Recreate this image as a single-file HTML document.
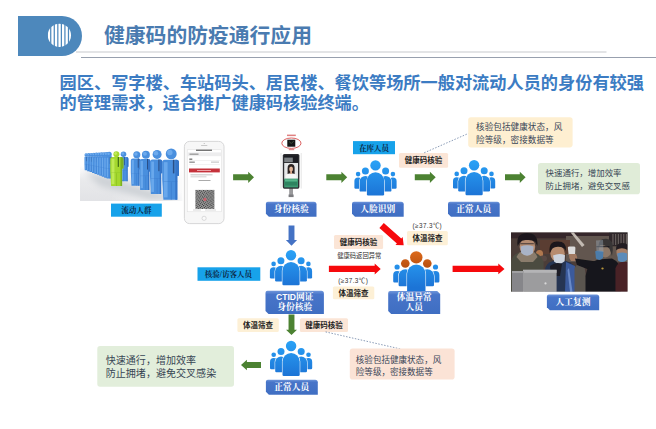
<!DOCTYPE html>
<html lang="zh"><head><meta charset="utf-8"><title>健康码的防疫通行应用</title>
<style>
html,body{margin:0;padding:0;background:#fff;}
body{width:656px;height:429px;overflow:hidden;position:relative;font-family:"Liberation Sans",sans-serif;}
svg{position:absolute;left:0;top:0;display:block;}
.t{position:absolute;left:0;top:0;width:656px;height:429px;overflow:hidden;}
.t span{position:absolute;white-space:nowrap;overflow:hidden;line-height:1;color:transparent;}
.sn{font-family:"Liberation Sans","Noto Sans CJK SC",sans-serif;}
.sb{font-family:"Liberation Sans","Noto Sans CJK SC",sans-serif;font-weight:bold;}
.rb{font-family:"Liberation Serif","Noto Serif CJK SC",serif;font-weight:bold;}
</style></head><body>
<svg width="656" height="429" viewBox="0 0 656 429">
<defs>

<linearGradient id="lb" x1="0" y1="0" x2="0" y2="1"><stop offset="0" stop-color="#6f96da"/><stop offset="0.16" stop-color="#4875c9"/><stop offset="1" stop-color="#3f6ec2"/></linearGradient>
<linearGradient id="pg" gradientUnits="userSpaceOnUse" x1="0" y1="-5" x2="0" y2="30"><stop offset="0" stop-color="#2aa2f6"/><stop offset="1" stop-color="#1c74d6"/></linearGradient>
<linearGradient id="og" gradientUnits="userSpaceOnUse" x1="0" y1="-6" x2="0" y2="10"><stop offset="0" stop-color="#dc6a1c"/><stop offset="1" stop-color="#b9500f"/></linearGradient>
<filter id="b0" x="-5%" y="-5%" width="110%" height="110%"><feGaussianBlur stdDeviation="0.35"/></filter>
<filter id="b1" x="-5%" y="-5%" width="110%" height="110%"><feGaussianBlur stdDeviation="0.55"/></filter>
<filter id="b3" x="-20%" y="-20%" width="140%" height="140%"><feGaussianBlur stdDeviation="3"/></filter>
<pattern id="qr" patternUnits="userSpaceOnUse" x="195.4" y="189.9" width="3.8" height="3.8"><rect width="3.8" height="3.8" fill="#b4b4b4"/><rect width="1.3" height="1.3" fill="#333"/><rect x="1.9" y="0.6" width="1.3" height="1.3" fill="#444"/><rect x="0.6" y="1.9" width="1.3" height="1.3" fill="#3a3a3a"/><rect x="2.5" y="2.5" width="1.3" height="1.3" fill="#333"/></pattern>
<linearGradient id="cbg" x1="0" y1="0" x2="0" y2="1"><stop offset="0" stop-color="#ffffff"/><stop offset="0.4" stop-color="#e9eaec"/><stop offset="1" stop-color="#e2e3e6"/></linearGradient>
<linearGradient id="cbw" x1="0" y1="0" x2="1" y2="0"><stop offset="0.3" stop-color="#fff" stop-opacity="0"/><stop offset="1" stop-color="#fff" stop-opacity="0.85"/></linearGradient>
<clipPath id="cc"><circle cx="59.4" cy="35.3" r="11.6"/></clipPath>
</defs>
<path d="M76 52H606.5" stroke="#c8cace" stroke-width="1.2"/>
<path d="M81 57.5H656" stroke="#98a0ae" stroke-width="1.1"/>
<path d="M18 16H62A20 20 0 0 1 62 56H18Z" fill="#4d88bc"/>
<g clip-path="url(#cc)" fill="#fff"><rect x="47.8" y="22" width="2.3" height="27"/><rect x="51.35" y="22" width="2.3" height="27"/><rect x="54.9" y="22" width="2.3" height="27"/><rect x="58.45" y="22" width="2.3" height="27"/><rect x="62" y="22" width="2.3" height="27"/><rect x="65.55" y="22" width="2.3" height="27"/><rect x="69.1" y="22" width="2.3" height="27"/></g>
<text class="sb" x="104" y="43.2" font-size="20.8" fill="#4a7bb0">健康码的防疫通行应用</text>
<text class="sb" x="59.6" y="88.5" font-size="17.2" fill="#3c7cc3">园区、写字楼、车站码头、居民楼、餐饮等场所一般对流动人员的身份有较强</text>
<text class="sb" x="59.6" y="108.9" font-size="17.2" fill="#3c7cc3">的管理需求，适合推广健康码核验终端。</text>
<clipPath id="cwc"><rect x="80" y="146" width="102.5" height="55"/></clipPath>
<g clip-path="url(#cwc)"><g filter="url(#b1)"><rect x="80" y="166" width="103" height="35" fill="url(#cbg)"/><rect x="80" y="166" width="103" height="35" fill="url(#cbw)"/><path d="M84 171L112 178L170 196L182 200H150L100 186Z" fill="#cdd1d6" filter="url(#b3)"/><path d="M84.5 163.4V157.348Q84.5 156.6 85.248 156.6H87.152Q87.9 156.6 87.9 157.348V162.04H87.56V170.2H84.738Z" fill="#4a8fde"/><path d="M87.152 156.6H87.152Q87.9 156.6 87.9 157.348V162.04H87.56V170.2H87.152Z" fill="#3674c8"/><rect x="84.84" y="157.416" width="0.748" height="11.968" fill="#74b0f0" opacity="0.75"/><rect x="86.54" y="156.6" width="0.5" height="4.624" fill="#2a4f86"/><rect x="84.738" y="163.944" width="2.822" height="0.3" fill="#3674c8" opacity="0.6"/><rect x="86.132" y="164.216" width="0.35" height="5.984" fill="#3674c8" opacity="0.8"/><circle cx="86.2" cy="154.9" r="1.712" fill="#4a8fde"/><circle cx="85.772" cy="154.472" r="0.856" fill="#74b0f0" opacity="0.8"/><path d="M86.9111 163.856V157.389Q86.9111 156.578 87.7227 156.578H89.7884Q90.6 156.578 90.6 157.389V162.4H90.2311V171.133H87.1693Z" fill="#4a8fde"/><path d="M89.7884 156.578H89.7884Q90.6 156.578 90.6 157.389V162.4H90.2311V171.133H89.7884Z" fill="#3674c8"/><rect x="87.28" y="157.451" width="0.811556" height="12.8089" fill="#74b0f0" opacity="0.75"/><rect x="89.1244" y="156.578" width="0.5" height="4.94889" fill="#2a4f86"/><rect x="87.1693" y="164.438" width="3.06178" height="0.3" fill="#3674c8" opacity="0.6"/><rect x="88.6818" y="164.729" width="0.35" height="6.40444" fill="#3674c8" opacity="0.8"/><circle cx="88.7556" cy="154.844" r="1.80711" fill="#4a8fde"/><circle cx="88.3038" cy="154.393" r="0.903556" fill="#74b0f0" opacity="0.8"/><path d="M89.3222 164.311V157.431Q89.3222 156.556 90.1973 156.556H92.4249Q93.3 156.556 93.3 157.431V162.76H92.9022V172.067H89.6007Z" fill="#4a8fde"/><path d="M92.4249 156.556H92.4249Q93.3 156.556 93.3 157.431V162.76H92.9022V172.067H92.4249Z" fill="#3674c8"/><rect x="89.72" y="157.486" width="0.875111" height="13.6498" fill="#74b0f0" opacity="0.75"/><rect x="91.7089" y="156.556" width="0.5" height="5.27378" fill="#2a4f86"/><rect x="89.6007" y="164.932" width="3.30156" height="0.3" fill="#3674c8" opacity="0.6"/><rect x="91.2316" y="165.242" width="0.35" height="6.82489" fill="#3674c8" opacity="0.8"/><circle cx="91.3111" cy="154.789" r="1.90222" fill="#4a8fde"/><circle cx="90.8356" cy="154.313" r="0.951111" fill="#74b0f0" opacity="0.8"/><path d="M91.7333 164.767V157.472Q91.7333 156.533 92.672 156.533H95.0613Q96 156.533 96 157.472V163.12H95.5733V173H92.032Z" fill="#4a8fde"/><path d="M95.0613 156.533H95.0613Q96 156.533 96 157.472V163.12H95.5733V173H95.0613Z" fill="#3674c8"/><rect x="92.16" y="157.521" width="0.938667" height="14.4907" fill="#74b0f0" opacity="0.75"/><rect x="94.2933" y="156.533" width="0.5" height="5.59867" fill="#2a4f86"/><rect x="92.032" y="165.425" width="3.54133" height="0.3" fill="#3674c8" opacity="0.6"/><rect x="93.7813" y="165.755" width="0.35" height="7.24533" fill="#3674c8" opacity="0.8"/><circle cx="93.8667" cy="154.733" r="1.99733" fill="#4a8fde"/><circle cx="93.3673" cy="154.234" r="0.998667" fill="#74b0f0" opacity="0.8"/><path d="M94.1444 165.222V157.513Q94.1444 156.511 95.1467 156.511H97.6978Q98.7 156.511 98.7 157.513V163.48H98.2444V173.933H94.4633Z" fill="#4a8fde"/><path d="M97.6978 156.511H97.6978Q98.7 156.511 98.7 157.513V163.48H98.2444V173.933H97.6978Z" fill="#3674c8"/><rect x="94.6" y="157.556" width="1.00222" height="15.3316" fill="#74b0f0" opacity="0.75"/><rect x="96.8778" y="156.511" width="0.5" height="5.92356" fill="#2a4f86"/><rect x="94.4633" y="165.919" width="3.78111" height="0.3" fill="#3674c8" opacity="0.6"/><rect x="96.3311" y="166.268" width="0.35" height="7.66578" fill="#3674c8" opacity="0.8"/><circle cx="96.4222" cy="154.678" r="2.09244" fill="#4a8fde"/><circle cx="95.8991" cy="154.155" r="1.04622" fill="#74b0f0" opacity="0.8"/><path d="M96.5556 165.678V157.555Q96.5556 156.489 97.6213 156.489H100.334Q101.4 156.489 101.4 157.555V163.84H100.916V174.867H96.8947Z" fill="#4a8fde"/><path d="M100.334 156.489H100.334Q101.4 156.489 101.4 157.555V163.84H100.916V174.867H100.334Z" fill="#3674c8"/><rect x="97.04" y="157.592" width="1.06578" height="16.1724" fill="#74b0f0" opacity="0.75"/><rect x="99.4622" y="156.489" width="0.5" height="6.24844" fill="#2a4f86"/><rect x="96.8947" y="166.413" width="4.02089" height="0.3" fill="#3674c8" opacity="0.6"/><rect x="98.8809" y="166.78" width="0.35" height="8.08622" fill="#3674c8" opacity="0.8"/><circle cx="98.9778" cy="154.622" r="2.18756" fill="#4a8fde"/><circle cx="98.4309" cy="154.075" r="1.09378" fill="#74b0f0" opacity="0.8"/><path d="M98.9667 166.133V157.596Q98.9667 156.467 100.096 156.467H102.971Q104.1 156.467 104.1 157.596V164.2H103.587V175.8H99.326Z" fill="#4a8fde"/><path d="M102.971 156.467H102.971Q104.1 156.467 104.1 157.596V164.2H103.587V175.8H102.971Z" fill="#3674c8"/><rect x="99.48" y="157.627" width="1.12933" height="17.0133" fill="#74b0f0" opacity="0.75"/><rect x="102.047" y="156.467" width="0.5" height="6.57333" fill="#2a4f86"/><rect x="99.326" y="166.907" width="4.26067" height="0.3" fill="#3674c8" opacity="0.6"/><rect x="101.431" y="167.293" width="0.35" height="8.50667" fill="#3674c8" opacity="0.8"/><circle cx="101.533" cy="154.567" r="2.28267" fill="#4a8fde"/><circle cx="100.963" cy="153.996" r="1.14133" fill="#74b0f0" opacity="0.8"/><path d="M101.378 166.589V157.637Q101.378 156.444 102.571 156.444H105.607Q106.8 156.444 106.8 157.637V164.56H106.258V176.733H101.757Z" fill="#4a8fde"/><path d="M105.607 156.444H105.607Q106.8 156.444 106.8 157.637V164.56H106.258V176.733H105.607Z" fill="#3674c8"/><rect x="101.92" y="157.662" width="1.19289" height="17.8542" fill="#74b0f0" opacity="0.75"/><rect x="104.631" y="156.444" width="0.5" height="6.89822" fill="#2a4f86"/><rect x="101.757" y="167.4" width="4.50044" height="0.3" fill="#3674c8" opacity="0.6"/><rect x="103.98" y="167.806" width="0.35" height="8.92711" fill="#3674c8" opacity="0.8"/><circle cx="104.089" cy="154.511" r="2.37778" fill="#4a8fde"/><circle cx="103.494" cy="153.917" r="1.18889" fill="#74b0f0" opacity="0.8"/><path d="M103.789 167.044V157.679Q103.789 156.422 105.045 156.422H108.244Q109.5 156.422 109.5 157.679V164.92H108.929V177.667H104.189Z" fill="#4a8fde"/><path d="M108.244 156.422H108.244Q109.5 156.422 109.5 157.679V164.92H108.929V177.667H108.244Z" fill="#3674c8"/><rect x="104.36" y="157.697" width="1.25644" height="18.6951" fill="#74b0f0" opacity="0.75"/><rect x="107.216" y="156.422" width="0.514" height="7.22311" fill="#2a4f86"/><rect x="104.189" y="167.894" width="4.74022" height="0.3" fill="#3674c8" opacity="0.6"/><rect x="106.53" y="168.319" width="0.35" height="9.34756" fill="#3674c8" opacity="0.8"/><circle cx="106.644" cy="154.456" r="2.47289" fill="#4a8fde"/><circle cx="106.026" cy="153.837" r="1.23644" fill="#74b0f0" opacity="0.8"/><path d="M106.2 167.5V157.72Q106.2 156.4 107.52 156.4H110.88Q112.2 156.4 112.2 157.72V165.28H111.6V178.6H106.62Z" fill="#4a8fde"/><path d="M110.88 156.4H110.88Q112.2 156.4 112.2 157.72V165.28H111.6V178.6H110.88Z" fill="#3674c8"/><rect x="106.8" y="157.732" width="1.32" height="19.536" fill="#74b0f0" opacity="0.75"/><rect x="109.8" y="156.4" width="0.54" height="7.548" fill="#2a4f86"/><rect x="106.62" y="168.388" width="4.98" height="0.3" fill="#3674c8" opacity="0.6"/><rect x="109.08" y="168.832" width="0.35" height="9.768" fill="#3674c8" opacity="0.8"/><circle cx="109.2" cy="154.4" r="2.568" fill="#4a8fde"/><circle cx="108.558" cy="153.758" r="1.284" fill="#74b0f0" opacity="0.8"/><path d="M120.6 169.1V158.716Q120.6 157 122.316 157H126.684Q128.4 157 128.4 158.716V166.68H127.62V181.2H121.146Z" fill="#4a8fde"/><path d="M126.684 157H126.684Q128.4 157 128.4 158.716V166.68H127.62V181.2H126.684Z" fill="#3674c8"/><rect x="121.38" y="158.452" width="1.716" height="21.296" fill="#74b0f0" opacity="0.75"/><rect x="124.28" y="157" width="0.702" height="8.228" fill="#2a4f86"/><rect x="121.146" y="170.068" width="6.474" height="0.3" fill="#3674c8" opacity="0.6"/><rect x="123.344" y="170.552" width="0.35" height="10.648" fill="#3674c8" opacity="0.8"/><circle cx="123.5" cy="154.3" r="2.782" fill="#4a8fde"/><circle cx="122.805" cy="153.605" r="1.391" fill="#74b0f0" opacity="0.8"/><path d="M110.2 171.5V159.5Q110.2 157 112.7 157H120.9Q123.4 157 123.4 159.5V168.6H122.08V186H111.124Z" fill="#a4d82e"/><path d="M120.496 157H120.9Q123.4 157 123.4 159.5V168.6H122.08V186H120.496Z" fill="#7cb022"/><rect x="111.52" y="158.74" width="2.904" height="25.52" fill="#c8f064" opacity="0.75"/><rect x="117.72" y="157" width="1.188" height="9.86" fill="#3c6a12"/><rect x="111.124" y="172.66" width="10.956" height="0.348" fill="#7cb022" opacity="0.6"/><rect x="116.136" y="173.24" width="0.528" height="12.76" fill="#7cb022" opacity="0.8"/><circle cx="116.4" cy="154.3" r="2.996" fill="#a4d82e"/><circle cx="115.651" cy="153.551" r="1.498" fill="#c8f064" opacity="0.8"/><path d="M130.8 172.1V160.512Q130.8 158.4 132.912 158.4H138.288Q140.4 158.4 140.4 160.512V169.36H139.44V185.8H131.472Z" fill="#4a8fde"/><path d="M138.288 158.4H138.288Q140.4 158.4 140.4 160.512V169.36H139.44V185.8H138.288Z" fill="#3674c8"/><rect x="131.76" y="160.044" width="2.112" height="24.112" fill="#74b0f0" opacity="0.75"/><rect x="137.76" y="158.4" width="0.864" height="9.316" fill="#2a4f86"/><rect x="131.472" y="173.196" width="7.968" height="0.3288" fill="#3674c8" opacity="0.6"/><rect x="136.608" y="173.744" width="0.384" height="12.056" fill="#3674c8" opacity="0.8"/><circle cx="136.8" cy="154.8" r="3.531" fill="#4a8fde"/><circle cx="135.917" cy="153.917" r="1.7655" fill="#74b0f0" opacity="0.8"/><path d="M139.4 174.5V161.42Q139.4 159 141.82 159H147.98Q150.4 159 150.4 161.42V171.4H149.3V190H140.17Z" fill="#4a8fde"/><path d="M147.98 159H147.98Q150.4 159 150.4 161.42V171.4H149.3V190H147.98Z" fill="#3674c8"/><rect x="140.5" y="160.86" width="2.42" height="27.28" fill="#74b0f0" opacity="0.75"/><rect x="147" y="159" width="0.99" height="10.54" fill="#2a4f86"/><rect x="140.17" y="175.74" width="9.13" height="0.372" fill="#3674c8" opacity="0.6"/><rect x="145.68" y="176.36" width="0.44" height="13.64" fill="#3674c8" opacity="0.8"/><circle cx="145.9" cy="154.7" r="3.959" fill="#4a8fde"/><circle cx="144.91" cy="153.71" r="1.9795" fill="#74b0f0" opacity="0.8"/><path d="M150 176.75V162Q150 159.5 152.5 159.5H159.9Q162.4 159.5 162.4 162V173.3H161.16V194H150.868Z" fill="#4a8fde"/><path d="M159.672 159.5H159.9Q162.4 159.5 162.4 162V173.3H161.16V194H159.672Z" fill="#3674c8"/><rect x="151.24" y="161.57" width="2.728" height="30.36" fill="#74b0f0" opacity="0.75"/><rect x="158.34" y="159.5" width="1.116" height="11.73" fill="#2a4f86"/><rect x="150.868" y="178.13" width="10.292" height="0.414" fill="#3674c8" opacity="0.6"/><rect x="156.852" y="178.82" width="0.496" height="15.18" fill="#3674c8" opacity="0.8"/><circle cx="157.1" cy="154.4" r="4.494" fill="#4a8fde"/><circle cx="155.976" cy="153.276" r="2.247" fill="#74b0f0" opacity="0.8"/><path d="M162.2 179.8V162.3Q162.2 159.8 164.7 159.8H176.5Q179 159.8 179 162.3V175.8H177.32V199.8H163.376Z" fill="#4a8fde"/><path d="M175.304 159.8H176.5Q179 159.8 179 162.3V175.8H177.32V199.8H175.304Z" fill="#3674c8"/><rect x="163.88" y="162.2" width="3.696" height="35.2" fill="#74b0f0" opacity="0.75"/><rect x="172.88" y="159.8" width="1.512" height="13.6" fill="#2a4f86"/><rect x="163.376" y="181.4" width="13.944" height="0.48" fill="#3674c8" opacity="0.6"/><rect x="170.864" y="182.2" width="0.672" height="17.6" fill="#3674c8" opacity="0.8"/><circle cx="171.2" cy="153.9" r="5.457" fill="#4a8fde"/><circle cx="169.836" cy="152.536" r="2.7285" fill="#74b0f0" opacity="0.8"/></g></g>
<g filter="url(#b0)"><rect x="184.4" y="141.4" width="39.6" height="82.2" rx="5.2" fill="#f7f7f7" stroke="#d2d2d4" stroke-width="0.9"/><rect x="187.2" y="149.8" width="34.4" height="62" fill="#ffffff" stroke="#dcdcdc" stroke-width="0.5"/><rect x="187.4" y="152.4" width="34" height="3.8" fill="#ededee"/><rect x="196" y="149.6" width="16" height="1.3" fill="#666"/><rect x="189.5" y="153.6" width="9" height="1.1" fill="#888"/><rect x="189.3" y="158.6" width="3" height="1.1" fill="#555"/><rect x="189.3" y="161.6" width="5.5" height="1.1" fill="#777"/><rect x="211" y="161.6" width="8" height="1" fill="#bbb"/><rect x="189" y="160.4" width="30.8" height="0.4" fill="#ddd"/><rect x="189" y="164.6" width="30.8" height="0.4" fill="#ddd"/><rect x="189" y="168.5" width="30.8" height="3.9" fill="#c5303b"/><rect x="197" y="170" width="14" height="0.9" fill="#f0b0b4"/><rect x="190.5" y="174.4" width="22" height="0.9" fill="#bbb"/><rect x="190.5" y="176.4" width="16" height="0.9" fill="#ccc"/><rect x="198.5" y="180" width="12" height="1" fill="#aaa"/><rect x="195.4" y="189.9" width="19" height="19" fill="url(#qr)"/><circle cx="204.9" cy="199.4" r="1.6" fill="#c8606a"/><rect x="193" y="209.6" width="8" height="0.8" fill="#ccc"/><rect x="205" y="209.6" width="11" height="0.8" fill="#ccc"/><circle cx="204.1" cy="218.3" r="2.1" fill="#fafafa" stroke="#c4c4c6" stroke-width="0.6"/><rect x="201" y="145.2" width="6.4" height="0.9" rx="0.4" fill="#bbb"/><circle cx="204.2" cy="143.4" r="0.5" fill="#aaa"/></g>
<g filter="url(#b0)"><rect x="287" y="134.6" width="8.8" height="1.5" fill="#d86060" opacity="0.8"/><rect x="287.3" y="139.7" width="8" height="7" fill="#151515"/><path d="M289 141.5l2.3 2 2.6-2.6" stroke="#6a8a6a" stroke-width="0.5" fill="none"/><ellipse cx="291.4" cy="143.2" rx="9.6" ry="5.2" fill="none" stroke="#d23a3a" stroke-width="0.8"/><rect x="288.8" y="149" width="5.4" height="1.2" fill="#d87070" opacity="0.8"/><path d="M281 153V188.5M301.2 153V188.5" stroke="#c8c8c8" stroke-width="0.5"/><rect x="289.2" y="188" width="3.8" height="9" fill="#9a9a9c"/><rect x="288.6" y="194.5" width="5" height="2.6" fill="#7c7c80"/><rect x="282.8" y="153.9" width="16.6" height="34.8" rx="1.6" fill="#2e2f33"/><rect x="284" y="155.4" width="14.2" height="7.2" fill="#1c1d20"/><rect x="284.2" y="157.6" width="8.6" height="4.6" fill="#7c8084"/><rect x="284.2" y="163" width="13.8" height="16.6" fill="#e4e6e8"/><path d="M287.6 174.5V168Q287.6 164 291.1 164Q294.6 164 294.6 168V174.5Z" fill="#2a2220"/><ellipse cx="291.1" cy="169" rx="1.9" ry="2.6" fill="#e2b79c"/><path d="M285.6 179.6V176.6Q285.6 174.2 289.2 173.6H293Q296.6 174.2 296.6 176.6V179.6Z" fill="#f6f6f6"/><rect x="290.2" y="171" width="1.8" height="3" fill="#dca98c"/><rect x="284.2" y="178.6" width="13.8" height="8.8" fill="#3d9a72"/><rect x="285" y="179.4" width="12.2" height="1.8" fill="#58b48a"/><rect x="285" y="182" width="12.2" height="3.6" fill="#2f8460"/></g>
<clipPath id="pc"><rect x="511" y="232.3" width="116.7" height="59.5"/></clipPath>
<g clip-path="url(#pc)"><g filter="url(#b1)"><rect x="511" y="232.3" width="116.7" height="59.5" fill="#4c3d38"/><rect x="511" y="232.3" width="116.7" height="6" fill="#35282a"/><rect x="566" y="236" width="62" height="26" fill="#62574f"/><rect x="540" y="240" width="30" height="14" fill="#5a3c30"/><path d="M570.6 232.5L573.8 232.5L584.6 245L582 247Z" fill="#c2bab2"/><rect x="609" y="232.3" width="18.7" height="14" fill="#2e2829"/><rect x="612.4" y="234" width="1.1" height="11" fill="#6a6260"/><rect x="615.1" y="234" width="1.1" height="11" fill="#6a6260"/><rect x="617.8" y="234" width="1.1" height="11" fill="#6a6260"/><rect x="620.5" y="234" width="1.1" height="11" fill="#6a6260"/><rect x="623.2" y="234" width="1.1" height="11" fill="#6a6260"/><rect x="625.9" y="234" width="1.1" height="11" fill="#6a6260"/><ellipse cx="539.5" cy="254" rx="3.6" ry="4" fill="#b07850"/><ellipse cx="543" cy="258.5" rx="4" ry="3" fill="#5a4a44"/><path d="M511 291.8V262Q512 254 520 252.5L534 252.5Q541 254 543.5 262V291.8Z" fill="#4c4c40"/><path d="M516.5 257Q519 250.5 527 250.5Q535.5 250.5 537.5 257L533 262H521Z" fill="#8a7c6c"/><ellipse cx="527.4" cy="246.8" rx="7.8" ry="8.8" fill="#b48c72"/><path d="M517.6 246Q515.6 233.2 527 233Q538.6 233 537.4 246L535.2 241.8Q531 239.4 527 240Q522 239.4 519.8 242.4Z" fill="#1b191b"/><path d="M520.6 246.5Q527 243.8 533.6 246.5L533 253Q527 258.5 521.2 253Z" fill="#a9b3c6"/><rect x="520.4" y="243.4" width="13.4" height="0.8" fill="#2a2626"/><path d="M545 291.8V270Q546 262.5 553 261L566 261Q574 263 575.5 270V291.8Z" fill="#263452"/><path d="M566 262L575 266V291.8H565Z" fill="#3a5a9c"/><path d="M569 268L572.5 291.8H570L567.5 270Z" fill="#6a8ac8"/><ellipse cx="557.6" cy="253.5" rx="7.2" ry="8.2" fill="#b78c70"/><path d="M549.6 253Q548.3 241.4 557.5 241.6Q566.7 241.4 566 251L564 248.2Q560 246.4 556 247Q552 247.6 551 251Z" fill="#1a181a"/><path d="M553 255.6Q559.2 252.8 565 255.2L564.6 261.2Q559.8 265.8 554.2 261.8Z" fill="#ccd3de"/><path d="M550 266Q556 261.5 562 264L560 276H551Z" fill="#1a1c26"/><rect x="512" y="271" width="12" height="20.8" fill="#86868a"/><rect x="523" y="269.8" width="33.6" height="22" fill="#9c9c9e"/><rect x="523" y="269.8" width="33.6" height="3" fill="#b4b4b6"/><rect x="512" y="271" width="12" height="2" fill="#a0a0a2"/><ellipse cx="545.5" cy="283.4" rx="1.1" ry="1.1" fill="#d8d8d8"/><path d="M574.5 291.8V268Q578 262 584 263L588 291.8Z" fill="#5a5450"/><path d="M567.8 247.6Q568 246.4 569.4 246.4L574.2 246.6Q575.6 246.8 575.4 248.2L575 254.6H568.6Z" fill="#dcdcdc"/><path d="M569 254H576Q578 257 577 261L571 261Q568.6 258 569 254Z" fill="#a27a62"/><path d="M575 258.4L600 262V274L577 265Z" fill="#15151a"/><path d="M585.5 291.8V276Q588 262 598 259.6L612 258.6Q620.5 262 620.8 274V291.8Z" fill="#17171b"/><ellipse cx="605.4" cy="249" rx="6.4" ry="8.4" fill="#8c7868"/><path d="M598.5 247Q598 238.6 606 238.8Q613.6 239 612.8 250L612 256L609.6 249Q606 244 599.6 245.6Z" fill="#383636"/><path d="M595.2 251.2Q599 249.6 603.4 251.4L603 258Q599.6 261.6 596 258.6Z" fill="#4c7caa"/><rect x="596.5" y="246.2" width="13" height="1" fill="#1a1a1e"/><path d="M596 240.5L603 240L603.5 252L596.4 251Z" fill="#9aa6b4" opacity="0.45"/><ellipse cx="602.5" cy="268.5" rx="1.2" ry="1" fill="#b8963c"/><path d="M615.5 291.8V268Q618 262 622 262L627.7 262V291.8Z" fill="#4a2228"/><ellipse cx="621.8" cy="252" rx="5.4" ry="7.2" fill="#a88068"/><path d="M616 250Q615.6 243 622 243Q627.7 243 627.7 246V250Q622 246.6 616 250Z" fill="#241e20"/><path d="M617.2 253.6Q622 251.4 627 253.4V260Q622.4 263.8 618 260.4Z" fill="#5c8cba"/></g></g>
<path d="M233.1 174.3H248.2V171.7L254 177.3L248.2 182.9V180.3H233.1Z" fill="#4c8232"/>
<path d="M326.3 174.3H341.4V171.7L347.2 177.3L341.4 182.9V180.3H326.3Z" fill="#4c8232"/>
<path d="M414.8 174.3H429.9V171.7L435.7 177.3L429.9 182.9V180.3H414.8Z" fill="#4c8232"/>
<path d="M505 174.3H519.8V171.7L525.6 177.3L519.8 182.9V180.3H505Z" fill="#4c8232"/>
<rect x="111" y="203.6" width="50.8" height="13.1" fill="#17a2ea"/>
<text class="rb" x="121.3" y="213.2" font-size="7.55" fill="#0d2746">流动人群</text>
<path d="M267.9 201.7H313.9Q316.5 201.7 316.5 204.3V216.7H268.9L265.9 213.7V203.7Q265.9 201.7 267.9 201.7Z" fill="url(#lb)"/>
<text class="rb" x="273.7" y="212.2" font-size="8.75" fill="#ffffff">身份核验</text>
<rect x="353" y="141.1" width="42" height="13.1" fill="#17a2ea"/>
<text class="rb" x="358.9" y="150.7" font-size="7.55" fill="#0d2746">在库人员</text>
<g transform="translate(375.5 165.4) scale(1)"><path d="M-21.1 22.1V15.7A3.7 3.7 0 0 1 -13.7 15.7V22.1Q-13.7 23.3 -14.9 23.3H-19.9Q-21.1 23.3 -21.1 22.1Z" fill="url(#pg)" stroke="#fff" stroke-width="1.1" paint-order="stroke" stroke-linejoin="round"/><circle cx="-17.4" cy="8.7" r="2.3" fill="url(#pg)" stroke="#fff" stroke-width="1.1" paint-order="stroke"/><path d="M13.7 22.1V15.7A3.7 3.7 0 0 1 21.1 15.7V22.1Q21.1 23.3 19.9 23.3H14.9Q13.7 23.3 13.7 22.1Z" fill="url(#pg)" stroke="#fff" stroke-width="1.1" paint-order="stroke" stroke-linejoin="round"/><circle cx="17.4" cy="8.7" r="2.3" fill="url(#pg)" stroke="#fff" stroke-width="1.1" paint-order="stroke"/><path d="M-15.9 25V16.3A5.8 5.8 0 0 1 -4.3 16.3V25Q-4.3 26.2 -5.5 26.2H-14.7Q-15.9 26.2 -15.9 25Z" fill="url(#pg)" stroke="#fff" stroke-width="1.1" paint-order="stroke" stroke-linejoin="round"/><circle cx="-10.1" cy="5.5" r="3.5" fill="url(#pg)" stroke="#fff" stroke-width="1.1" paint-order="stroke"/><path d="M4.3 25V16.3A5.8 5.8 0 0 1 15.9 16.3V25Q15.9 26.2 14.7 26.2H5.5Q4.3 26.2 4.3 25Z" fill="url(#pg)" stroke="#fff" stroke-width="1.1" paint-order="stroke" stroke-linejoin="round"/><circle cx="10.1" cy="5.5" r="3.5" fill="url(#pg)" stroke="#fff" stroke-width="1.1" paint-order="stroke"/><path d="M-8.6 28.8V15.5A8.6 8.6 0 0 1 8.6 15.5V28.8Q8.6 30 7.4 30H-7.4Q-8.6 30 -8.6 28.8Z" fill="url(#pg)" stroke="#fff" stroke-width="1.1" paint-order="stroke" stroke-linejoin="round"/><circle cx="0" cy="0" r="5.2" fill="url(#pg)" stroke="#fff" stroke-width="1.1" paint-order="stroke"/></g>
<path d="M354 201.7H401.1Q403.7 201.7 403.7 204.3V216.7H355L352 213.7V203.7Q352 201.7 354 201.7Z" fill="url(#lb)"/>
<text class="rb" x="360.35" y="212.2" font-size="8.75" fill="#ffffff">人脸识别</text>
<rect x="399" y="153" width="49.1" height="14.7" rx="1.5" fill="#fbe5d6"/>
<text class="sb" x="404.8" y="163.35" font-size="7.5" fill="#1c1c1c">健康码核验</text>
<g transform="translate(474.1 165.2) scale(1)"><path d="M-21.1 22.1V15.7A3.7 3.7 0 0 1 -13.7 15.7V22.1Q-13.7 23.3 -14.9 23.3H-19.9Q-21.1 23.3 -21.1 22.1Z" fill="url(#pg)" stroke="#fff" stroke-width="1.1" paint-order="stroke" stroke-linejoin="round"/><circle cx="-17.4" cy="8.7" r="2.3" fill="url(#pg)" stroke="#fff" stroke-width="1.1" paint-order="stroke"/><path d="M13.7 22.1V15.7A3.7 3.7 0 0 1 21.1 15.7V22.1Q21.1 23.3 19.9 23.3H14.9Q13.7 23.3 13.7 22.1Z" fill="url(#pg)" stroke="#fff" stroke-width="1.1" paint-order="stroke" stroke-linejoin="round"/><circle cx="17.4" cy="8.7" r="2.3" fill="url(#pg)" stroke="#fff" stroke-width="1.1" paint-order="stroke"/><path d="M-15.9 25V16.3A5.8 5.8 0 0 1 -4.3 16.3V25Q-4.3 26.2 -5.5 26.2H-14.7Q-15.9 26.2 -15.9 25Z" fill="url(#pg)" stroke="#fff" stroke-width="1.1" paint-order="stroke" stroke-linejoin="round"/><circle cx="-10.1" cy="5.5" r="3.5" fill="url(#pg)" stroke="#fff" stroke-width="1.1" paint-order="stroke"/><path d="M4.3 25V16.3A5.8 5.8 0 0 1 15.9 16.3V25Q15.9 26.2 14.7 26.2H5.5Q4.3 26.2 4.3 25Z" fill="url(#pg)" stroke="#fff" stroke-width="1.1" paint-order="stroke" stroke-linejoin="round"/><circle cx="10.1" cy="5.5" r="3.5" fill="url(#pg)" stroke="#fff" stroke-width="1.1" paint-order="stroke"/><path d="M-8.6 28.8V15.5A8.6 8.6 0 0 1 8.6 15.5V28.8Q8.6 30 7.4 30H-7.4Q-8.6 30 -8.6 28.8Z" fill="url(#pg)" stroke="#fff" stroke-width="1.1" paint-order="stroke" stroke-linejoin="round"/><circle cx="0" cy="0" r="5.2" fill="url(#pg)" stroke="#fff" stroke-width="1.1" paint-order="stroke"/></g>
<path d="M450 201.7H497.1Q499.7 201.7 499.7 204.3V216.7H451L448 213.7V203.7Q448 201.7 450 201.7Z" fill="url(#lb)"/>
<text class="rb" x="456.35" y="212.2" font-size="8.75" fill="#ffffff">正常人员</text>
<path d="M424.2 152.8L468.5 133.4" stroke="#7d90ae" stroke-width="0.9" stroke-dasharray="1.5 1.5" fill="none"/>
<rect x="468.2" y="117.3" width="104.4" height="30.1" rx="2.8" fill="#feefd1"/>
<text class="sn" x="476" y="130.3" font-size="8.63" fill="#3a4658">核验包括健康状态，风</text>
<text class="sn" x="476" y="142.9" font-size="8.63" fill="#3a4658">险等级，密接数据等</text>
<rect x="538" y="163" width="102" height="31.2" rx="2.8" fill="#e0ecd8"/>
<text class="sn" x="545.6" y="176.1" font-size="8.45" fill="#384654">快速通行，增加效率</text>
<text class="sn" x="545.6" y="188.8" font-size="8.45" fill="#384654">防止拥堵，避免交叉感</text>
<path d="M288.55 225.6V240.1H285.9L291.5 245.7L297.1 240.1H294.45V225.6Z" fill="#4472c4"/>
<rect x="197.5" y="267.3" width="62.8" height="13.5" fill="#17a2ea"/>
<text class="rb" x="204.74" y="277.1" font-size="7.55" fill="#0d2746">核验/访客人员</text>
<g transform="translate(291 255.2) scale(1)"><path d="M-21.1 22.1V15.7A3.7 3.7 0 0 1 -13.7 15.7V22.1Q-13.7 23.3 -14.9 23.3H-19.9Q-21.1 23.3 -21.1 22.1Z" fill="url(#pg)" stroke="#fff" stroke-width="1.1" paint-order="stroke" stroke-linejoin="round"/><circle cx="-17.4" cy="8.7" r="2.3" fill="url(#pg)" stroke="#fff" stroke-width="1.1" paint-order="stroke"/><path d="M13.7 22.1V15.7A3.7 3.7 0 0 1 21.1 15.7V22.1Q21.1 23.3 19.9 23.3H14.9Q13.7 23.3 13.7 22.1Z" fill="url(#pg)" stroke="#fff" stroke-width="1.1" paint-order="stroke" stroke-linejoin="round"/><circle cx="17.4" cy="8.7" r="2.3" fill="url(#pg)" stroke="#fff" stroke-width="1.1" paint-order="stroke"/><path d="M-15.9 25V16.3A5.8 5.8 0 0 1 -4.3 16.3V25Q-4.3 26.2 -5.5 26.2H-14.7Q-15.9 26.2 -15.9 25Z" fill="url(#pg)" stroke="#fff" stroke-width="1.1" paint-order="stroke" stroke-linejoin="round"/><circle cx="-10.1" cy="5.5" r="3.5" fill="url(#pg)" stroke="#fff" stroke-width="1.1" paint-order="stroke"/><path d="M4.3 25V16.3A5.8 5.8 0 0 1 15.9 16.3V25Q15.9 26.2 14.7 26.2H5.5Q4.3 26.2 4.3 25Z" fill="url(#pg)" stroke="#fff" stroke-width="1.1" paint-order="stroke" stroke-linejoin="round"/><circle cx="10.1" cy="5.5" r="3.5" fill="url(#pg)" stroke="#fff" stroke-width="1.1" paint-order="stroke"/><path d="M-8.6 28.8V15.5A8.6 8.6 0 0 1 8.6 15.5V28.8Q8.6 30 7.4 30H-7.4Q-8.6 30 -8.6 28.8Z" fill="url(#pg)" stroke="#fff" stroke-width="1.1" paint-order="stroke" stroke-linejoin="round"/><circle cx="0" cy="0" r="5.2" fill="url(#pg)" stroke="#fff" stroke-width="1.1" paint-order="stroke"/></g>
<path d="M267.5 290.8H321.3Q323.9 290.8 323.9 293.4V313.9H268.5L265.5 310.9V292.8Q265.5 290.8 267.5 290.8Z" fill="url(#lb)"/>
<text class="sb" x="275.98" y="300.25" font-size="8.57" fill="#ffffff">CTID</text>
<text class="rb" x="295.92" y="300.4" font-size="8.75" fill="#ffffff">网证</text>
<text class="rb" x="277.2" y="310.3" font-size="8.75" fill="#ffffff">身份核验</text>
<rect x="334" y="234.9" width="49.1" height="14.1" rx="1.5" fill="#fbe5d6"/>
<text class="sb" x="339.8" y="244.95" font-size="7.5" fill="#1c1c1c">健康码核验</text>
<text class="sn" x="337.2" y="258.1" font-size="6.3" fill="#2a2a2a">健康码返回异常</text>
<path d="M328.9 265.7H374.7V263.4L380.7 268.9L374.7 274.4V272.1H328.9Z" fill="#f6090c"/>
<text class="sn" x="338.2" y="283.1" font-size="6.4" fill="#333333" textLength="29.6" lengthAdjust="spacing">(≥37.3℃)</text>
<rect x="332.9" y="286.6" width="41.4" height="12.7" rx="1.5" fill="#fdf0d6"/>
<text class="sb" x="338.6" y="295.95" font-size="7.5" fill="#1c1c1c">体温筛查</text>
<g transform="translate(381.6 225.5) rotate(41.7)"><path d="M0 -3.3H23.4V-5.4L29.6 0L23.4 5.4V3.3H0Z" fill="#f6090c"/></g>
<text class="sn" x="412.6" y="228.05" font-size="6.3" fill="#333333" textLength="29.1" lengthAdjust="spacing">(≥37.3℃)</text>
<rect x="407" y="231.1" width="40.8" height="14.2" rx="1.5" fill="#fdf0d6"/>
<text class="sb" x="412.4" y="241.2" font-size="7.5" fill="#1c1c1c">体温筛查</text>
<g transform="translate(416.3 257.4) scale(1)"><path d="M-23.1 23.8V17.5A3.9 3.9 0 0 1 -15.3 17.5V23.8Q-15.3 25 -16.5 25H-21.9Q-23.1 25 -23.1 23.8Z" fill="url(#pg)" stroke="#fff" stroke-width="1.1" paint-order="stroke" stroke-linejoin="round"/><circle cx="-19.2" cy="9.6" r="2.6" fill="url(#pg)" stroke="#fff" stroke-width="1.1" paint-order="stroke"/><path d="M15.3 23.8V17.5A3.9 3.9 0 0 1 23.1 17.5V23.8Q23.1 25 21.9 25H16.5Q15.3 25 15.3 23.8Z" fill="url(#pg)" stroke="#fff" stroke-width="1.1" paint-order="stroke" stroke-linejoin="round"/><circle cx="19.2" cy="9.6" r="2.6" fill="url(#pg)" stroke="#fff" stroke-width="1.1" paint-order="stroke"/><path d="M-17.7 27.6V18.6A6.7 6.7 0 0 1 -4.3 18.6V27.6Q-4.3 28.8 -5.5 28.8H-16.5Q-17.7 28.8 -17.7 27.6Z" fill="url(#pg)" stroke="#fff" stroke-width="1.1" paint-order="stroke" stroke-linejoin="round"/><circle cx="-11" cy="6.1" r="4.3" fill="url(#og)" stroke="#fff" stroke-width="1.1" paint-order="stroke"/><path d="M4.3 27.6V18.6A6.7 6.7 0 0 1 17.7 18.6V27.6Q17.7 28.8 16.5 28.8H5.5Q4.3 28.8 4.3 27.6Z" fill="url(#pg)" stroke="#fff" stroke-width="1.1" paint-order="stroke" stroke-linejoin="round"/><circle cx="11" cy="6.1" r="4.3" fill="url(#og)" stroke="#fff" stroke-width="1.1" paint-order="stroke"/><path d="M-9.2 33.3V16.4A9.2 9.2 0 0 1 9.2 16.4V33.3Q9.2 34.5 8 34.5H-8Q-9.2 34.5 -9.2 33.3Z" fill="url(#pg)" stroke="#fff" stroke-width="1.1" paint-order="stroke" stroke-linejoin="round"/><circle cx="0" cy="0" r="6.2" fill="url(#og)" stroke="#fff" stroke-width="1.1" paint-order="stroke"/></g>
<path d="M390.2 291.1H437.2L440.2 294.1V313.9H391.2L388.2 310.9V293.1Q388.2 291.1 390.2 291.1Z" fill="url(#lb)"/>
<text class="rb" x="396.7" y="299.9" font-size="8.75" fill="#ffffff">体温异常</text>
<text class="rb" x="405.45" y="310.2" font-size="8.75" fill="#ffffff">人员</text>
<path d="M452.6 265.7H498.3V263.5L504.5 268.9L498.3 274.3V272.1H452.6Z" fill="#f6090c"/>
<path d="M548.9 294.6H596.6Q599.2 294.6 599.2 297.2V310.2H549.9L546.9 307.2V296.6Q546.9 294.6 548.9 294.6Z" fill="url(#lb)"/>
<text class="rb" x="555.55" y="305.4" font-size="8.75" fill="#ffffff">人工复测</text>
<path d="M288.55 314.5V329.8H286L291.5 335L297 329.8H294.45V314.5Z" fill="#4c8232"/>
<rect x="237.4" y="318.2" width="41.4" height="13.7" rx="1.5" fill="#fdf0d6"/>
<text class="sb" x="243.1" y="328.05" font-size="7.5" fill="#1c1c1c">体温筛查</text>
<rect x="299.9" y="318.2" width="48.1" height="13.7" rx="1.5" fill="#fbe5d6"/>
<text class="sb" x="305.2" y="328.05" font-size="7.5" fill="#1c1c1c">健康码核验</text>
<g transform="translate(291.1 346) scale(1)"><path d="M-21.1 22.1V15.7A3.7 3.7 0 0 1 -13.7 15.7V22.1Q-13.7 23.3 -14.9 23.3H-19.9Q-21.1 23.3 -21.1 22.1Z" fill="url(#pg)" stroke="#fff" stroke-width="1.1" paint-order="stroke" stroke-linejoin="round"/><circle cx="-17.4" cy="8.7" r="2.3" fill="url(#pg)" stroke="#fff" stroke-width="1.1" paint-order="stroke"/><path d="M13.7 22.1V15.7A3.7 3.7 0 0 1 21.1 15.7V22.1Q21.1 23.3 19.9 23.3H14.9Q13.7 23.3 13.7 22.1Z" fill="url(#pg)" stroke="#fff" stroke-width="1.1" paint-order="stroke" stroke-linejoin="round"/><circle cx="17.4" cy="8.7" r="2.3" fill="url(#pg)" stroke="#fff" stroke-width="1.1" paint-order="stroke"/><path d="M-15.9 25V16.3A5.8 5.8 0 0 1 -4.3 16.3V25Q-4.3 26.2 -5.5 26.2H-14.7Q-15.9 26.2 -15.9 25Z" fill="url(#pg)" stroke="#fff" stroke-width="1.1" paint-order="stroke" stroke-linejoin="round"/><circle cx="-10.1" cy="5.5" r="3.5" fill="url(#pg)" stroke="#fff" stroke-width="1.1" paint-order="stroke"/><path d="M4.3 25V16.3A5.8 5.8 0 0 1 15.9 16.3V25Q15.9 26.2 14.7 26.2H5.5Q4.3 26.2 4.3 25Z" fill="url(#pg)" stroke="#fff" stroke-width="1.1" paint-order="stroke" stroke-linejoin="round"/><circle cx="10.1" cy="5.5" r="3.5" fill="url(#pg)" stroke="#fff" stroke-width="1.1" paint-order="stroke"/><path d="M-8.6 28.8V15.5A8.6 8.6 0 0 1 8.6 15.5V28.8Q8.6 30 7.4 30H-7.4Q-8.6 30 -8.6 28.8Z" fill="url(#pg)" stroke="#fff" stroke-width="1.1" paint-order="stroke" stroke-linejoin="round"/><circle cx="0" cy="0" r="5.2" fill="url(#pg)" stroke="#fff" stroke-width="1.1" paint-order="stroke"/></g>
<path d="M261 361.9H246.9V359.7L241 365L246.9 370.3V368.1H261Z" fill="#4c8232"/>
<path d="M267.9 379.7H315.2Q317.8 379.7 317.8 382.3V394.8H268.9L265.9 391.8V381.7Q265.9 379.7 267.9 379.7Z" fill="url(#lb)"/>
<text class="rb" x="274.35" y="390.2" font-size="8.75" fill="#ffffff">正常人员</text>
<rect x="97.3" y="346.1" width="136.7" height="40.7" rx="2.8" fill="#e2eedb"/>
<text class="sn" x="105.7" y="363.7" font-size="10.05" fill="#384654">快速通行，增加效率</text>
<text class="sn" x="105.7" y="377.1" font-size="10.05" fill="#384654">防止拥堵，避免交叉感染</text>
<path d="M325.6 331.9L401.5 349.2" stroke="#7d90ae" stroke-width="0.9" stroke-dasharray="1.5 1.5" fill="none"/>
<rect x="349.8" y="348.5" width="104.8" height="31.1" rx="2.8" fill="#fbe3d6"/>
<text class="sn" x="355.8" y="363.1" font-size="8.55" fill="#3a4658">核验包括健康状态，风</text>
<text class="sn" x="355.8" y="374.6" font-size="8.55" fill="#3a4658">险等级，密接数据等</text>
</svg>
<div class="t"><span style="left:104px;top:24.9px;font-size:20.8px;width:210.2px">健康码的防疫通行应用</span><span style="left:59.6px;top:73.4px;font-size:17.2px;width:586.8px">园区、写字楼、车站码头、居民楼、餐饮等场所一般对流动人员的身份有较强</span><span style="left:59.6px;top:93.8px;font-size:17.2px;width:311.6px">的管理需求，适合推广健康码核验终端。</span><span style="left:121.3px;top:206.6px;font-size:7.5px;width:32.2px">流动人群</span><span style="left:273.7px;top:204.5px;font-size:8.8px;width:37px">身份核验</span><span style="left:358.9px;top:144.1px;font-size:7.5px;width:32.2px">在库人员</span><span style="left:360.4px;top:204.5px;font-size:8.8px;width:37px">人脸识别</span><span style="left:404.8px;top:156.8px;font-size:7.5px;width:39.5px">健康码核验</span><span style="left:456.4px;top:204.5px;font-size:8.8px;width:37px">正常人员</span><span style="left:476px;top:122.8px;font-size:8.6px;width:88.3px">核验包括健康状态，风</span><span style="left:476px;top:135.3px;font-size:8.6px;width:79.7px">险等级，密接数据等</span><span style="left:545.6px;top:168.7px;font-size:8.4px;width:78px">快速通行，增加效率</span><span style="left:545.6px;top:181.4px;font-size:8.4px;width:86.5px">防止拥堵，避免交叉感</span><span style="left:204.7px;top:270.5px;font-size:7.5px;width:50.3px">核验/访客人员</span><span style="left:276px;top:292.7px;font-size:8.6px;width:21.9px">CTID</span><span style="left:295.9px;top:292.7px;font-size:8.8px;width:19.5px">网证</span><span style="left:277.2px;top:302.6px;font-size:8.8px;width:37px">身份核验</span><span style="left:339.8px;top:238.3px;font-size:7.5px;width:39.5px">健康码核验</span><span style="left:337.2px;top:252.6px;font-size:6.3px;width:46.1px">健康码返回异常</span><span style="left:338.2px;top:277.5px;font-size:6.4px;width:31.6px">(≥37.3℃)</span><span style="left:338.6px;top:289.4px;font-size:7.5px;width:32px">体温筛查</span><span style="left:412.6px;top:222.5px;font-size:6.3px;width:31.1px">(≥37.3℃)</span><span style="left:412.4px;top:234.6px;font-size:7.5px;width:32px">体温筛查</span><span style="left:396.7px;top:292.2px;font-size:8.8px;width:37px">体温异常</span><span style="left:405.4px;top:302.5px;font-size:8.8px;width:19.5px">人员</span><span style="left:555.5px;top:297.7px;font-size:8.8px;width:37px">人工复测</span><span style="left:243.1px;top:321.4px;font-size:7.5px;width:32px">体温筛查</span><span style="left:305.2px;top:321.4px;font-size:7.5px;width:39.5px">健康码核验</span><span style="left:274.4px;top:382.5px;font-size:8.8px;width:37px">正常人员</span><span style="left:105.7px;top:354.9px;font-size:10.1px;width:92.5px">快速通行，增加效率</span><span style="left:105.7px;top:368.3px;font-size:10.1px;width:112.5px">防止拥堵，避免交叉感染</span><span style="left:355.8px;top:355.6px;font-size:8.6px;width:87.5px">核验包括健康状态，风</span><span style="left:355.8px;top:367.1px;font-size:8.6px;width:79px">险等级，密接数据等</span></div>
</body></html>
